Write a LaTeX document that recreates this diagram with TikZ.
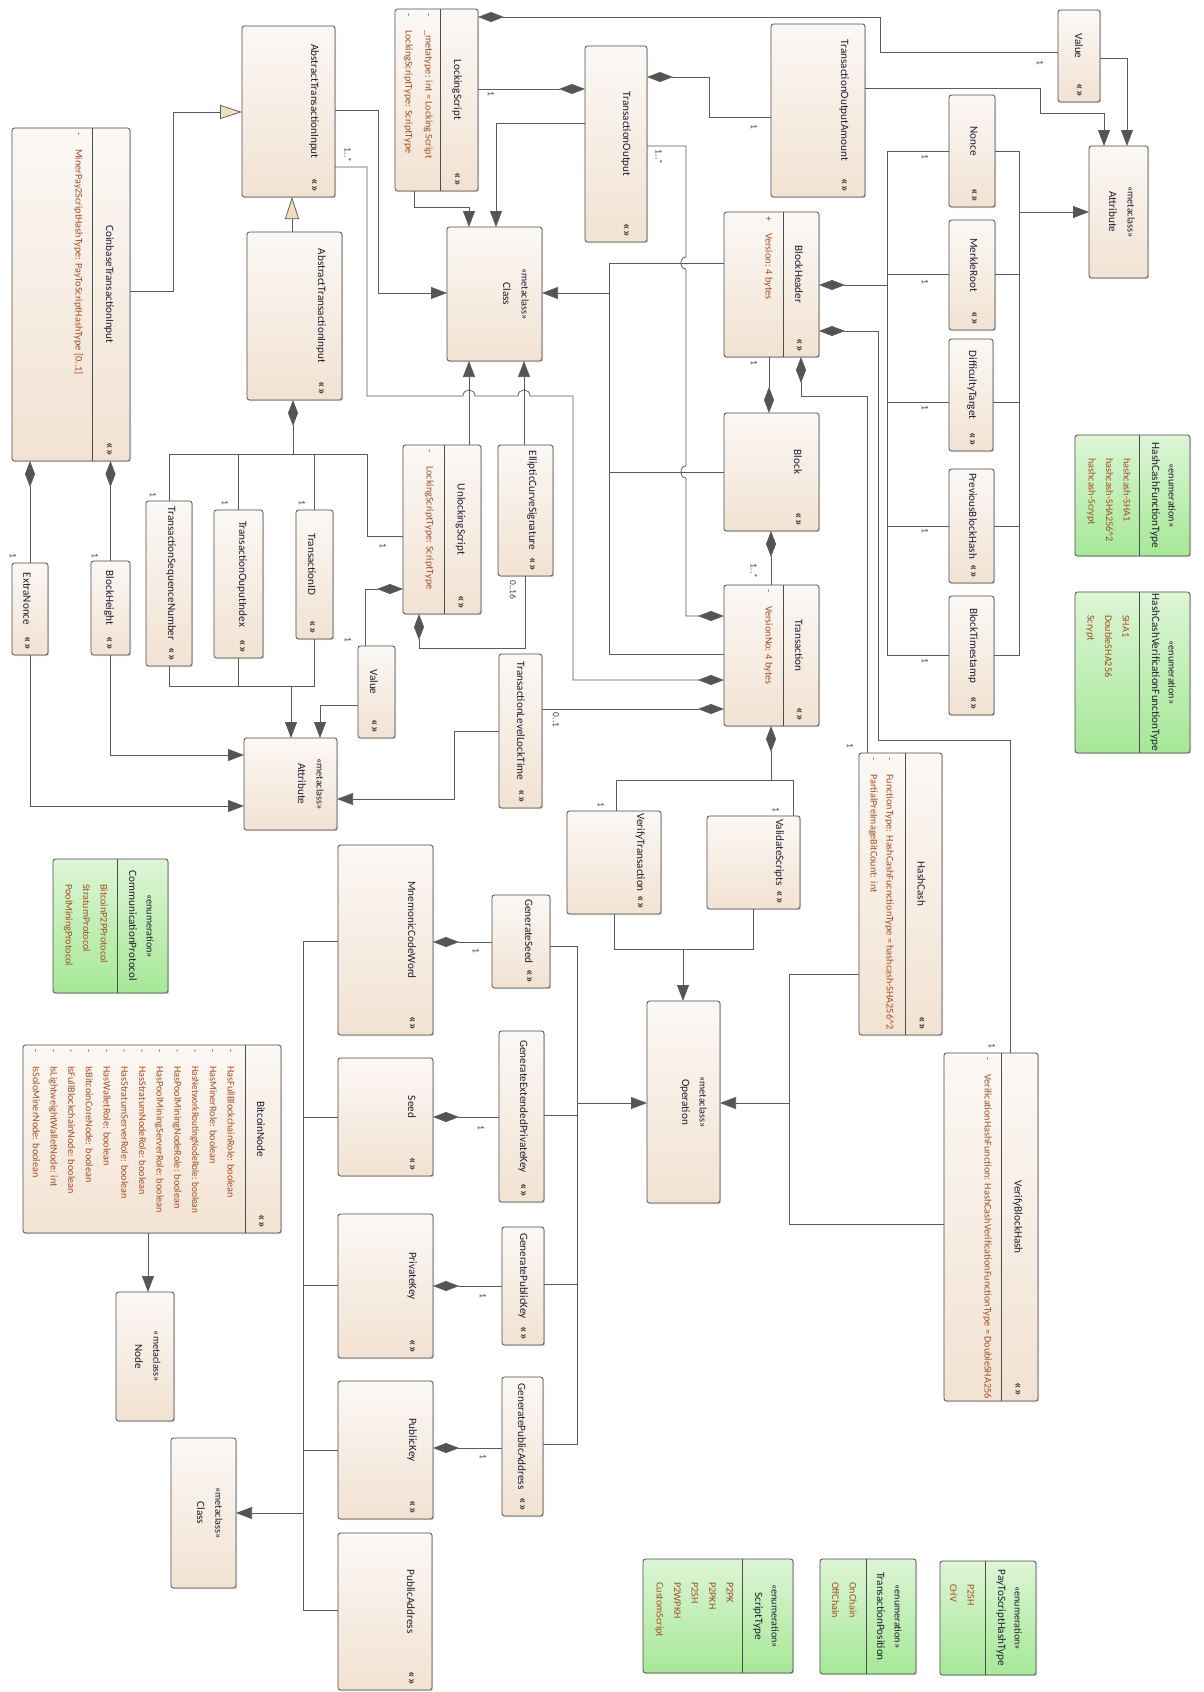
\documentclass[tikz,border=0pt]{standalone}
\usepackage{graphicx}
\usepackage{fontspec}
\setmainfont{Carlito}
\usetikzlibrary{arrows.meta,fit,shadows}
\definecolor{boxline}{HTML}{4D4D4D}
\definecolor{boxtop}{HTML}{FBF8F5}
\definecolor{boxbot}{HTML}{F2E2D2}
\definecolor{enumtop}{HTML}{DDF5D6}
\definecolor{enumbot}{HTML}{A6E897}
\definecolor{ttlcol}{HTML}{1E1E2E}
\definecolor{iconcol}{HTML}{444444}
\definecolor{attrcol}{HTML}{A34E22}
\definecolor{linecol}{HTML}{5A5A5A}
\definecolor{tipcol}{HTML}{555555}
\definecolor{gencol}{HTML}{F2DDBF}
\newcounter{tn}
\newcommand\cbox[6]{\node[#1, fit={(#3,#4) (#5,#6)}] (#2) {};}
\newcommand\sclass[6]{\cbox{box}{#1}{#2}{#3}{#4}{#5}%
  \node[ttl] (#1-t) at ({#4-21},{(#3+#5-20)/2}) {#6};%
  \node[icon] (#1-i) at ({#4-21},{#5-12}) {«»};}
\newcommand\mclass[6]{\cbox{box}{#1}{#2}{#3}{#4}{#5}%
  \node[ster] (#1-s) at ({#4-17},{(#3+#5)/2}) {«metaclass»};%
  \node[ttl] (#1-t) at ({#4-35},{(#3+#5)/2}) {#6};}
\newcommand\kclass[7]{\cbox{box}{#1}{#2}{#3}{#4}{#5}%
  \draw[divline] (#6,#3) -- (#6,#5);%
  \node[ttl] (#1-t) at ({(#6+#4)/2-2},{(#3+#5-20)/2}) {#7};%
  \node[icon] (#1-i) at ({(#6+#4)/2-2},{#5-12}) {«»};}
\newcommand\eclass[7]{\cbox{enumbox}{#1}{#2}{#3}{#4}{#5}%
  \draw[divline] (#6,#3) -- (#6,#5);%
  \node[ster] (#1-s) at ({#4-18},{(#3+#5)/2}) {«enumeration»};%
  \node[ttl] (#1-t) at ({#4-35},{(#3+#5)/2}) {#7};}
\newcommand\arow[4]{\stepcounter{tn}\node[attr] (t\arabic{tn}) at (#1,{#2+4}) {#3};%
  \stepcounter{tn}\node[attr] (t\arabic{tn}) at (#1,{#2+21}) {#4};}
\newcommand\lit[3]{\stepcounter{tn}\node[attr] (t\arabic{tn}) at (#1,#2) {#3};}
\newcommand\mlt[3]{\stepcounter{tn}\node[mult] (t\arabic{tn}) at (#1,#2) {#3};}
\begin{document}
\begin{tikzpicture}[x=1pt,y=-1pt,
 box/.style={draw=boxline, line width=0.8pt, rounded corners=2.5pt, top color=boxtop, bottom color=boxbot, inner sep=0pt, outer sep=0pt, drop shadow={shadow xshift=1.2pt, shadow yshift=-1.2pt, fill=black, opacity=0.15}},
 enumbox/.style={box, top color=enumtop, bottom color=enumbot},
 divline/.style={draw=boxline, line width=0.8pt},
 ttl/.style={rotate=-90, inner sep=0pt, text=ttlcol, font=\fontsize{11.2}{13}\selectfont},
 ster/.style={rotate=-90, inner sep=0pt, text=ttlcol, font=\fontsize{10.2}{12}\selectfont},
 icon/.style={rotate=-90, inner sep=0pt, text=iconcol, font=\fontsize{13}{14}\selectfont\bfseries},
 attr/.style={rotate=-90, anchor=west, inner sep=0pt, text height=7pt, text depth=2pt, text=attrcol, font=\fontsize{10.2}{12}\selectfont},
 mult/.style={rotate=-90, inner sep=0pt, text=ttlcol!85, font=\fontsize{9.5}{11}\selectfont},
 conn/.style={draw=linecol, line width=0.75pt},
 comp/.style={{Diamond[length=26pt,width=10pt,fill=tipcol]}-},
 arr/.style={-{Triangle[length=16pt,width=12pt,fill=tipcol]}},
 gen/.style={-{Triangle[length=22pt,width=14pt,fill=gencol]}}
]
\fill[white] (0,0) rectangle (1203,1692);
\useasboundingbox (0,0) rectangle (1203,1692);

% ---------------- boxes ----------------
\sclass{ati1}{242}{26}{335}{197}{AbstractTransactionInput}
\kclass{coinbase}{12}{128}{130}{461}{92}{CoinbaseTransactionInput}
\arow{78}{128}{-}{MinerPay2ScriptHashType: PayToScriptHashType [0..1]}
\sclass{ati2}{247}{232}{342}{400}{AbstractTransactionInput}
\kclass{lock}{395}{9}{478}{191}{440}{LockingScript}
\arow{428}{9}{-}{\_metatype: int = Locking Script}
\arow{408}{9}{-}{LockingScriptType: ScriptType}
\mclass{class1}{447}{227}{542}{361}{Class}
\sclass{txout}{585}{46}{647}{242}{TransactionOutput}
\sclass{toa}{771}{24}{865}{197}{TransactionOutputAmount}
\sclass{value1}{1058}{10}{1100}{102}{Value}
\mclass{attr1}{1089}{146}{1148}{278}{Attribute}
\kclass{bh}{724}{212}{819}{357}{783}{BlockHeader}
\arow{768}{212}{+}{Version: 4 bytes}
\sclass{nonce}{949}{95}{995}{207}{Nonce}
\sclass{merkle}{949}{220}{995}{330}{MerkleRoot}
\sclass{diff}{949}{339}{993}{451}{DifficultyTarget}
\sclass{prevh}{949}{469}{994}{583}{PreviousBlockHash}
\sclass{bts}{949}{596}{994}{715}{BlockTimestamp}
\sclass{block}{724}{413}{819}{531}{Block}
\kclass{tx}{724}{585}{819}{726}{783}{Transaction}
\arow{768}{585}{-}{VersionNo: 4 bytes}
\kclass{unlock}{403}{445}{481}{614}{444}{UnlockingScript}
\arow{429}{445}{-}{LockingScriptType: ScriptType}
\sclass{ecs}{498}{445}{553}{576}{EllipticCurveSignature}
\sclass{tsn}{146}{501}{192}{666}{TransactionSequenceNumber}
\sclass{toi}{214}{510}{263}{658}{TransactionOuputIndex}
\sclass{tid}{296}{510}{333}{639}{TransactionID}
\sclass{value2}{358}{646}{395}{738}{Value}
\sclass{extra}{12}{563}{48}{655}{ExtraNonce}
\sclass{bheight}{91}{561}{130}{655}{BlockHeight}
\mclass{attr2}{244}{738}{337}{830}{Attribute}
\sclass{tllt}{499}{654}{542}{808}{TransactionLevelLockTime}
\sclass{vtx}{567}{811}{661}{914}{VerifyTransaction}
\sclass{vscripts}{707}{816}{800}{909}{ValidateScripts}
\kclass{hashcash}{859}{753}{942}{1035}{905}{HashCash}
\arow{889}{753}{-}{FunctionType: HashCashFucnctionType = hashcash-SHA256\textasciicircum 2}
\arow{873}{753}{-}{PartialPreImageBitCount: int}
\kclass{vbh}{944}{1053}{1038}{1401}{1001}{VerifyBlockHash}
\arow{987}{1053}{-}{VerificationHashFunction: HashCashVerificationFunctionType = DoubleSHA256}
\mclass{operation}{647}{1001}{720}{1203}{Operation}
\sclass{mnem}{338}{845}{433}{1035}{MnemonicCodeWord}
\sclass{gseed}{492}{895}{550}{988}{GenerateSeed}
\sclass{seed}{338}{1058}{433}{1176}{Seed}
\sclass{gepk}{499}{1031}{544}{1202}{GenerateExtendedPrivateKey}
\sclass{pk}{338}{1214}{433}{1358}{PrivateKey}
\sclass{gpk}{502}{1227}{544}{1345}{GeneratePublicKey}
\sclass{pubk}{338}{1381}{433}{1519}{PublicKey}
\sclass{gpa}{502}{1377}{543}{1516}{GeneratePublicAddress}
\sclass{paddr}{338}{1533}{432}{1690}{PublicAddress}
\kclass{bnode}{23}{1045}{281}{1233}{245}{BitcoinNode}
\arow{230}{1045}{-}{HasFullBlockchainRole: boolean}
\arow{212.3}{1045}{-}{HasMinerRole: boolean}
\arow{194.6}{1045}{-}{\scalebox{0.9}[1]{HasNetworkRoutingNodeRole: boolean}}
\arow{176.9}{1045}{-}{HasPoolMiningNodeRole: boolean}
\arow{159.2}{1045}{-}{HasPoolMiningServerRole: boolean}
\arow{141.5}{1045}{-}{HasStratumNodeRole: boolean}
\arow{123.8}{1045}{-}{HasStratumServerRole: boolean}
\arow{106.1}{1045}{-}{HasWalletRole: boolean}
\arow{88.4}{1045}{-}{IsBitcoinCoreNode: boolean}
\arow{70.7}{1045}{-}{IsFullBlockchainNode: boolean}
\arow{53}{1045}{-}{IsLightweightWalletNode: int}
\arow{35.3}{1045}{-}{IsSoloMinerNode: boolean}
\mclass{nodemc}{116}{1292}{174}{1421}{Node}
\mclass{class2}{171}{1438}{236}{1588}{Class}

% ---------------- enumerations ----------------
\eclass{ehcf}{1075}{435}{1190}{556}{1139}{HashCashFunctionType}
\lit{1126}{458}{hashcash-SHA1}
\lit{1108.5}{458}{hashcash-SHA256\textasciicircum 2}
\lit{1091}{458}{hashcash-Scrypt}
\eclass{ehcv}{1075}{592}{1190}{753}{1139}{HashCashVerificationFunctionType}
\lit{1125}{615}{SHA1}
\lit{1107.5}{615}{DoubleSHA256}
\lit{1090}{615}{Scrypt}
\eclass{ecomm}{53}{859}{168}{993}{117}{CommunicationProtocol}
\lit{103}{884}{BitcoinP2PProtocol}
\lit{85.5}{884}{StratumProtocol}
\lit{68}{884}{PoolMiningProtocol}
\eclass{escript}{643}{1559}{793}{1673}{742}{ScriptType}
\lit{729}{1582}{P2PK}
\lit{711.5}{1582}{P2PKH}
\lit{694}{1582}{P2SH}
\lit{676.5}{1582}{P2WPKH}
\lit{659}{1582}{CustomScript}
\eclass{etpos}{820}{1559}{916}{1674}{866}{TransactionPosition}
\lit{852}{1582}{OnChain}
\lit{834.5}{1582}{OffChain}
\eclass{ep2sh}{940}{1561}{1036}{1675}{985}{PayToScriptHashType}
\lit{970}{1584}{P2SH}
\lit{952.5}{1584}{CHV}

% ---------------- connectors ----------------
\draw[conn,gen] (coinbase.east |- 0,291) -- (173,291) -- (173,112) -- (ati1.west |- 0,112);
\draw[conn,gen] (292,0 |- ati2.north) -- (292,0 |- ati1.south);
\draw[conn,arr] (ati1.east |- 0,110) -- (378,110) -- (378,293) -- (class1.west |- 0,293);
\draw[conn,comp] (tx.west |- 0,680) -- (573,680) -- (573,396) -- (530,396)
   .. controls (530,388) and (518,388) .. (518,396) -- (475,396)
   .. controls (475,388) and (463,388) .. (463,396) -- (367,396) -- (367,167) -- (ati1.east |- 0,167);
\coordinate (j1) at (293,454);
\draw[conn,comp] (j1 |- ati2.south) -- (j1);
\draw[conn] (tsn.north) -- (tsn.north |- j1) -- (367,454) -- (367,536) -- (unlock.west |- 0,536);
\draw[conn] (toi.north) -- (toi.north |- j1);
\draw[conn] (tid.north) -- (tid.north |- j1);
\coordinate (j2) at (291,686);
\draw[conn] (tsn.south) -- (tsn.south |- j2) -- (tid.south |- j2) -- (tid.south);
\draw[conn] (toi.south) -- (toi.south |- j2);
\draw[conn,arr] (j2) -- (j2 |- attr2.north);
\draw[conn,arr] (value2.west |- 0,705) -- (320,705) -- (320,0 |- attr2.north);
\draw[conn,comp] (unlock.west |- 0,589) -- (365,589) -- (365,0 |- value2.north);
\draw[conn,arr] (bheight.south) -- (bheight.south |- 0,755) -- (attr2.west |- 0,755);
\draw[conn,arr] (extra.south) -- (extra.south |- 0,806) -- (attr2.west |- 0,806);
\draw[conn,comp] (extra.north |- coinbase.south) -- (extra.north);
\draw[conn,comp] (bheight.north |- coinbase.south) -- (bheight.north);
\draw[conn,arr] (tllt.west |- 0,731) -- (454,731) -- (454,799) -- (attr2.east |- 0,799);
\draw[conn,comp] (tx.west |- 0,709) -- (tllt.east |- 0,709);
\draw[conn,arr] (469,0 |- unlock.north) -- (469,0 |- class1.south);
\draw[conn,arr] (524,0 |- ecs.north) -- (524,0 |- class1.south);
\draw[conn,comp] (419,0 |- unlock.south) -- (419,648) -- (ecs.south |- 0,648) -- (ecs.south);
\draw[conn,arr] (414,0 |- lock.south) -- (414,207) -- (469,207) -- (469,0 |- class1.north);
\draw[conn,arr] (txout.west |- 0,123) -- (496,123) -- (496,0 |- class1.north);
\draw[conn,comp] (txout.west |- 0,89) -- (lock.east |- 0,89);
\draw[conn,comp] (lock.east |- 0,17) -- (880,17) -- (880,52) -- (value1.west |- 0,52);
\draw[conn,comp] (txout.east |- 0,77) -- (709,77) -- (709,117) -- (toa.west |- 0,117);
\draw[conn,arr] (toa.east |- 0,88) -- (1040,88) -- (1040,113) -- (1104,113) -- (1104,0 |- attr1.north);
\draw[conn,arr] (value1.east |- 0,58) -- (1127,58) -- (1127,0 |- attr1.north);
\draw[conn,comp] (tx.west |- 0,616) -- (686,616) -- (686,478)
   .. controls (679,478) and (679,466) .. (686,466) -- (686,269)
   .. controls (679,269) and (679,257) .. (686,257) -- (686,146) -- (txout.east |- 0,146);
\coordinate (j3) at (609,293);
\draw[conn] (bh.west |- 0,263) -- (609,263) -- (609,654) -- (tx.west |- 0,654);
\draw[conn] (block.west |- 0,472) -- (609,472);
\draw[conn,arr] (j3) -- (class1.east |- j3);
\draw[conn,comp] (769,0 |- block.north) -- (769,0 |- bh.south);
\draw[conn,comp] (771,0 |- block.south) -- (771,0 |- tx.north);
\draw[conn,comp] (bh.east |- 0,285) -- (887,285);
\draw[conn] (nonce.west |- 0,151) -- (887,151) -- (887,655) -- (bts.west |- 0,655);
\draw[conn] (merkle.west |- 0,274) -- (887,274);
\draw[conn] (diff.west |- 0,402) -- (887,402);
\draw[conn] (prevh.west |- 0,526) -- (887,526);
\draw[conn] (nonce.east |- 0,151) -- (1019,151) -- (1019,655) -- (bts.east |- 0,655);
\draw[conn] (merkle.east |- 0,274) -- (1019,274);
\draw[conn] (diff.east |- 0,402) -- (1019,402);
\draw[conn] (prevh.east |- 0,526) -- (1019,526);
\draw[conn,arr] (1019,212) -- (attr1.west |- 0,212);
\draw[conn,comp] (bh.east |- 0,331) -- (878,331) -- (878,740) -- (1010,740) -- (1010,0 |- vbh.north);
\draw[conn,comp] (801,0 |- bh.south) -- (801,396) -- (867,396) -- (867,0 |- hashcash.north);
\draw[conn,comp] (771,0 |- tx.south) -- (771,780);
\draw[conn] (616,0 |- vtx.north) -- (616,780) -- (793,780) -- (793,0 |- vscripts.north);
\draw[conn] (614,0 |- vtx.south) -- (614,949) -- (753,949) -- (753,0 |- vscripts.south);
\draw[conn,arr] (683,949) -- (683,0 |- operation.north);
\draw[conn] (gseed.east |- 0,946) -- (577,946) -- (577,1444) -- (gpa.east |- 0,1444);
\draw[conn] (gepk.east |- 0,1115) -- (577,1115);
\draw[conn] (gpk.east |- 0,1284) -- (577,1284);
\draw[conn,arr] (577,1103) -- (operation.west |- 0,1103);
\draw[conn] (hashcash.west |- 0,974) -- (789,974) -- (789,1224) -- (vbh.west |- 0,1224);
\draw[conn,arr] (789,1103) -- (operation.east |- 0,1103);
\draw[conn,comp] (mnem.east |- 0,942) -- (gseed.west |- 0,942);
\draw[conn,comp] (seed.east |- 0,1117) -- (gepk.west |- 0,1117);
\draw[conn,comp] (pk.east |- 0,1286) -- (gpk.west |- 0,1286);
\draw[conn,comp] (pubk.east |- 0,1448) -- (gpa.west |- 0,1448);
\draw[conn] (mnem.west |- 0,941) -- (303,941) -- (303,1610) -- (paddr.west |- 0,1610);
\draw[conn] (seed.west |- 0,1117) -- (303,1117);
\draw[conn] (pk.west |- 0,1285) -- (303,1285);
\draw[conn] (pubk.west |- 0,1450) -- (303,1450);
\draw[conn,arr] (303,1513) -- (class2.east |- 0,1513);
\draw[conn,arr] (148,0 |- bnode.south) -- (148,0 |- nodemc.north);

% ---------------- multiplicities ----------------
\mlt{348}{155}{1..*}
\mlt{491}{94}{1}
\mlt{754}{127}{1}
\mlt{659}{157}{1..*}
\mlt{1040}{63}{1}
\mlt{925}{157}{1}
\mlt{925}{282}{1}
\mlt{925}{408}{1}
\mlt{925}{531}{1}
\mlt{925}{661}{1}
\mlt{754}{363}{1}
\mlt{754}{571}{1..*}
\mlt{850}{746}{1}
\mlt{992}{1046}{1}
\mlt{601}{805}{1}
\mlt{776}{810}{1}
\mlt{556}{720}{0..1}
\mlt{513}{590}{0..16}
\mlt{348}{640}{1}
\mlt{383}{546}{1}
\mlt{153}{495}{1}
\mlt{225}{503}{1}
\mlt{302}{503}{1}
\mlt{13}{556}{1}
\mlt{95}{556}{1}
\mlt{476}{951}{1}
\mlt{481}{1128}{1}
\mlt{483}{1296}{1}
\mlt{483}{1457}{1}
\end{tikzpicture}
\end{document}
